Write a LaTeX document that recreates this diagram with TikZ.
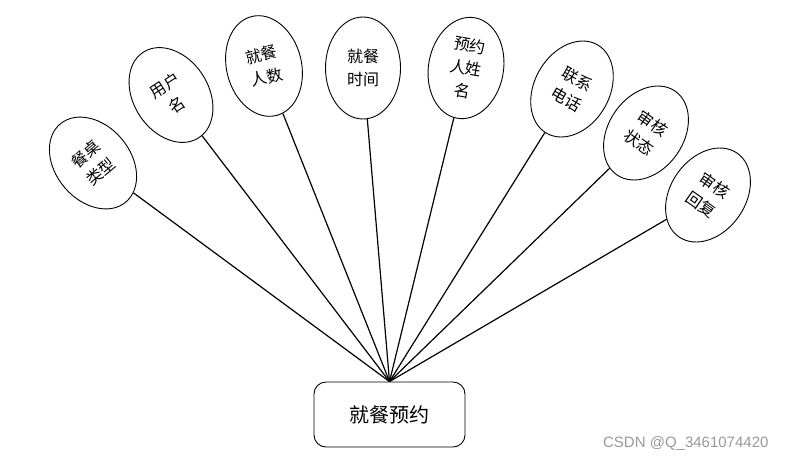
\documentclass[tikz,border=0pt]{standalone}
\usepackage{fontspec}
\setmainfont{Liberation Sans}
\newfontfamily\cjk{Noto Sans CJK SC}
\usetikzlibrary{shapes.geometric}
\begin{document}
\begin{tikzpicture}[x=1pt,y=-1pt,
  attr/.style={ellipse,draw=black,line width=0.9pt,fill=white,minimum width=75pt,minimum height=102pt,inner sep=0pt,align=center,font=\cjk\fontsize{16}{23}\selectfont},
  link/.style={line width=1.2pt,black},
  entity/.style={rectangle,rounded corners=12pt,draw=black,line width=0.9pt,fill=white,minimum width=151pt,minimum height=65pt,font=\cjk\fontsize{20}{24}\selectfont}]
\useasboundingbox (0,0) rectangle (786,464);
\node[entity] (box) at (389.5,414.5) {就餐预约};
\node[attr,rotate=40] (a1) at (93,163) {餐桌\\类型};
\node[attr,rotate=33] (a2) at (171,95) {用户\\名};
\node[attr,rotate=14] (a3) at (264,66) {就餐\\人数};
\node[attr] (a4) at (363,68) {就餐\\时间};
\node[attr,rotate=-10] (a5) at (466,68) {预约\\人姓\\名};
\node[attr,rotate=-30] (a6) at (572,89) {联系\\电话};
\node[attr,rotate=-35] (a7) at (646,133) {审核\\状态};
\node[attr,rotate=-35] (a8) at (708,195) {审核\\回复};
\foreach \n in {a1,a2,a3,a4,a5,a6,a7,a8}
  \draw[link] (\n) -- (box.north);
\node[text=gray!80,font=\fontsize{15}{18}\selectfont,anchor=east] (wm) at (772,444) {CSDN @Q\_3461074420};
\end{tikzpicture}
\end{document}
